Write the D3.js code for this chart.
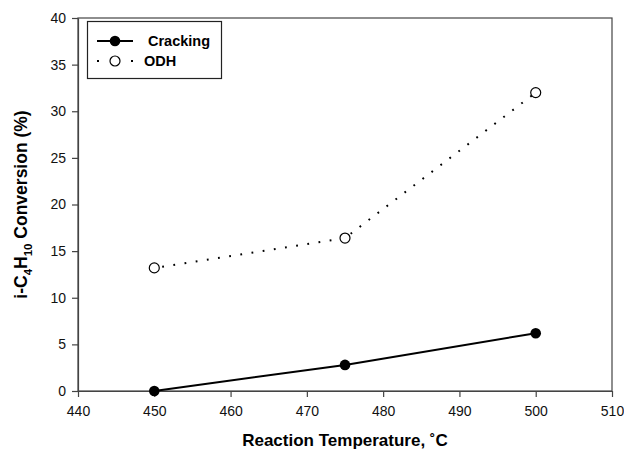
<!DOCTYPE html>
<html><head><meta charset="utf-8">
<script src="https://cdn.jsdelivr.net/npm/d3@7"></script>
<style>body{margin:0;background:#fff}svg{display:block}text{font-family:"Liberation Sans",Arial,sans-serif}</style>
</head><body><svg id="c" width="624" height="451"></svg>
<script>
const temps = [450, 475, 500];
const cracking = [0, 2.8, 6.2];
const odh = [13.2, 16.4, 32.0];
const xTicks = [440, 450, 460, 470, 480, 490, 500, 510];
const yTicks = [0, 5, 10, 15, 20, 25, 30, 35, 40];
const seriesNames = ["Cracking", "ODH"];

const svg = d3.select("#c");
const L = 78, R = 612, T = 18, B = 391;
const x = d3.scaleLinear().domain([440, 510]).range([L, R]);
const y = d3.scaleLinear().domain([0, 40]).range([B, T]);
const axisColor = "#444";

// frame
svg.append("rect").attr("x", L).attr("y", T).attr("width", R - L).attr("height", B - T)
  .attr("fill", "none").attr("stroke", axisColor).attr("stroke-width", 1.2);

const xa = svg.append("g").attr("transform", `translate(0,${B})`)
  .call(d3.axisBottom(x).tickValues(xTicks).tickSize(6).tickSizeOuter(0).tickPadding(9));
const ya = svg.append("g").attr("transform", `translate(${L},0)`)
  .call(d3.axisLeft(y).tickValues(yTicks).tickSize(6).tickSizeOuter(0).tickPadding(6));
[xa, ya].forEach(a => {
  a.select(".domain").attr("stroke", axisColor).attr("stroke-width", 1.2);
  a.selectAll(".tick line").attr("stroke", axisColor).attr("stroke-width", 1.2);
  a.selectAll("text").attr("font-size", 14).attr("fill", "#111")
    .style("font-family", '"Liberation Sans",Arial,sans-serif');
});

const line = d3.line().x(d => x(d[0])).y(d => y(d[1]));
const crData = temps.map((t, i) => [t, cracking[i]]);
const odData = temps.map((t, i) => [t, odh[i]]);

svg.append("path").datum(crData).attr("d", line).attr("fill", "none")
  .attr("stroke", "#000").attr("stroke-width", 2);
svg.append("path").datum(odData).attr("d", line).attr("fill", "none")
  .attr("stroke", "#000").attr("stroke-width", 2).attr("stroke-dasharray", "1.8,9.5")
  .attr("stroke-dashoffset", -8);

svg.selectAll(".cr").data(crData).join("circle").attr("cx", d => x(d[0])).attr("cy", d => y(d[1]))
  .attr("r", 5.3).attr("fill", "#000");
svg.selectAll(".od").data(odData).join("circle").attr("cx", d => x(d[0])).attr("cy", d => y(d[1]))
  .attr("r", 5).attr("fill", "#fff").attr("stroke", "#000").attr("stroke-width", 1.2);

// legend
const lg = svg.append("g");
lg.append("rect").attr("x", 87.5).attr("y", 21.5).attr("width", 134).attr("height", 57)
  .attr("fill", "#fff").attr("stroke", "#222").attr("stroke-width", 1.2);
lg.append("line").attr("x1", 97).attr("x2", 133).attr("y1", 41).attr("y2", 41)
  .attr("stroke", "#000").attr("stroke-width", 2);
lg.append("circle").attr("cx", 115).attr("cy", 41).attr("r", 5.3).attr("fill", "#000");
lg.append("line").attr("x1", 97).attr("x2", 133).attr("y1", 61).attr("y2", 61)
  .attr("stroke", "#000").attr("stroke-width", 2).attr("stroke-dasharray", "2,15");
lg.append("rect").attr("x", 131).attr("y", 60).attr("width", 2).attr("height", 2).attr("fill", "#000");
lg.append("circle").attr("cx", 115).attr("cy", 61).attr("r", 5).attr("fill", "#fff")
  .attr("stroke", "#000").attr("stroke-width", 1.2);
lg.append("text").attr("x", 148).attr("y", 46).attr("font-size", 14.5).attr("font-weight", "bold").text(seriesNames[0]);
lg.append("text").attr("x", 144).attr("y", 66).attr("font-size", 14.5).attr("font-weight", "bold").text(seriesNames[1]);

// x title
svg.append("text").attr("x", (L + R) / 2).attr("y", 446).attr("text-anchor", "middle")
  .attr("font-size", 17).attr("font-weight", "bold").text("Reaction Temperature, ˚C");

// y title
const yt = svg.append("text").attr("transform", `translate(27,${(T + B) / 2}) rotate(-90)`)
  .attr("text-anchor", "middle").attr("font-size", 17.5).attr("font-weight", "bold");
yt.append("tspan").text("i-C");
yt.append("tspan").attr("font-size", 11.5).attr("dy", 4.5).text("4");
yt.append("tspan").attr("dy", -4.5).text("H");
yt.append("tspan").attr("font-size", 11.5).attr("dy", 4.5).text("10");
yt.append("tspan").attr("dy", -4.5).text(" Conversion (%)");
</script></body></html>
